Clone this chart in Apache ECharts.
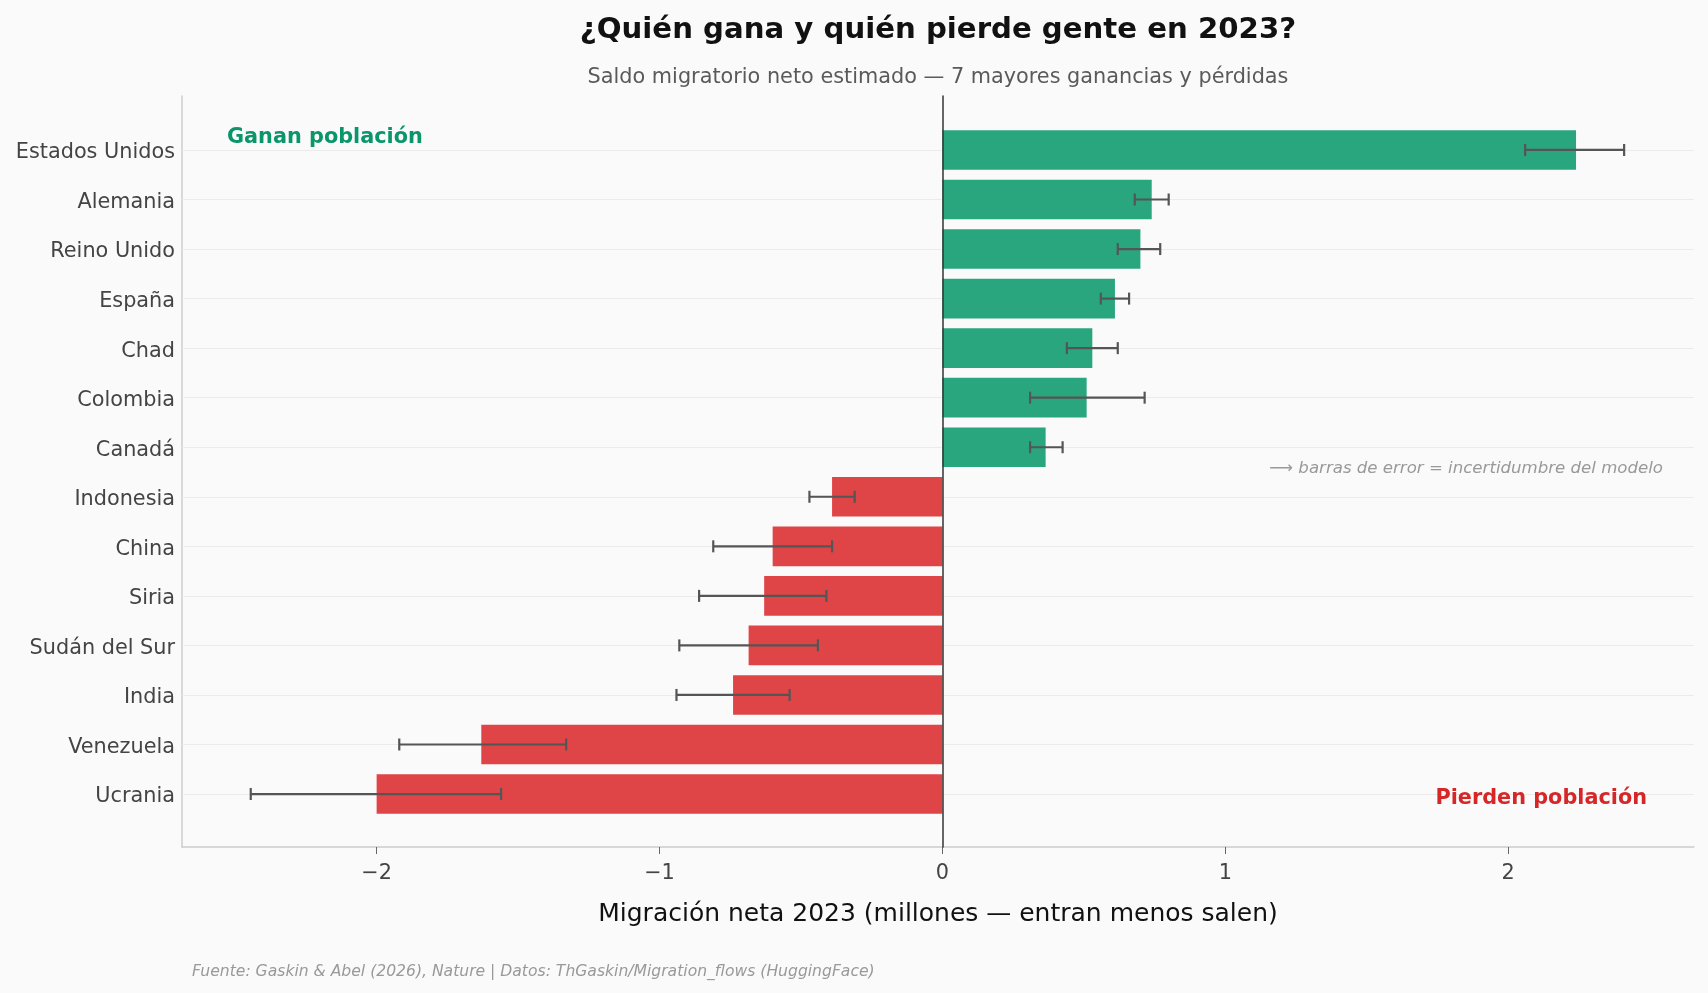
<!DOCTYPE html>
<html>
<head>
<meta charset="utf-8">
<script src="https://cdn.jsdelivr.net/npm/echarts@6/dist/echarts.min.js"></script>
<style>
  html, body { margin: 0; padding: 0; background: #fafafa; }
  #main { width: 1708px; height: 993px; }
</style>
</head>
<body>
<div id="main"></div>
<script>
// data (millones de personas)
var categories = ['Estados Unidos', 'Alemania', 'Reino Unido', 'España', 'Chad', 'Colombia', 'Canadá',
                  'Indonesia', 'China', 'Siria', 'Sudán del Sur', 'India', 'Venezuela', 'Ucrania'];
var netMigration = [2.24, 0.74, 0.70, 0.61, 0.53, 0.51, 0.365, -0.39, -0.60, -0.63, -0.685, -0.74, -1.63, -2.00];
var errLow  = [2.06, 0.68, 0.62, 0.56, 0.44, 0.31, 0.31, -0.47, -0.81, -0.86, -0.93, -0.94, -1.92, -2.445];
var errHigh = [2.41, 0.80, 0.77, 0.66, 0.62, 0.715, 0.425, -0.31, -0.39, -0.41, -0.44, -0.54, -1.33, -1.56];
var xTicks = [-2, -1, 0, 1, 2];

var GREEN = '#2aa67f', RED = '#df4547';
var FONT = '"DejaVu Sans", sans-serif';
var X_MIN = -2.688, X_MAX = 2.657;

var chart = echarts.init(document.getElementById('main'));

var barData = netMigration.map(function (v) {
  return { value: v, itemStyle: { color: v >= 0 ? GREEN : RED } };
});
var errData = errLow.map(function (lo, i) { return [lo, errHigh[i], i]; });

function fmtTick(v) {
  return v < 0 ? '\u2212' + Math.abs(v) : String(v);
}

function label(x, y, text, font, fill, align) {
  return {
    type: 'text', x: x, y: y, z: 20,
    style: { text: text, font: font, fill: fill, textAlign: align, align: align,
             textVerticalAlign: 'middle', verticalAlign: 'middle' }
  };
}

chart.setOption({
  backgroundColor: '#fafafa',
  animation: false,
  textStyle: { fontFamily: FONT },
  grid: [
    { left: 182, right: 14, top: 96, bottom: 146 },
    { left: 182, right: 14, top: 125.2, bottom: 174.2 }
  ],
  xAxis: [{
    gridIndex: 0,
    type: 'value',
    min: X_MIN,
    max: X_MAX,
    axisLine: { onZero: false, lineStyle: { color: '#cccccc', width: 1.5 } },
    axisTick: { show: true, length: 7, customValues: xTicks, lineStyle: { color: '#666', width: 1 } },
    axisLabel: { customValues: xTicks, formatter: fmtTick, fontSize: 20.8, color: '#444', margin: 16, fontFamily: FONT },
    splitLine: { show: false },
    name: 'Migración neta 2023 (millones — entran menos salen)',
    nameLocation: 'middle',
    nameGap: 55,
    nameTextStyle: { fontSize: 25, color: '#111', fontFamily: FONT }
  }, {
    gridIndex: 1,
    type: 'value',
    min: X_MIN,
    max: X_MAX,
    show: false
  }],
  yAxis: [{
    // zero line
    gridIndex: 0,
    type: 'value',
    min: 0, max: 1,
    position: 'right',
    z: 10,
    axisLine: { show: true, onZero: true, lineStyle: { color: '#333', width: 1.5 } },
    axisTick: { show: false },
    axisLabel: { show: false },
    splitLine: { show: false }
  }, {
    // left spine
    gridIndex: 0,
    type: 'value',
    min: 0, max: 1,
    position: 'left',
    axisLine: { show: true, onZero: false, lineStyle: { color: '#cccccc', width: 1.5 } },
    axisTick: { show: false },
    axisLabel: { show: false },
    splitLine: { show: false }
  }, {
    gridIndex: 1,
    type: 'category',
    data: categories,
    inverse: true,
    axisLine: { show: false },
    axisTick: { show: false },
    axisLabel: { fontSize: 20.8, color: '#444', margin: 7, verticalAlign: 'top', lineHeight: 6, fontFamily: FONT },
    splitLine: { show: false }
  }],
  series: [{
    type: 'bar',
    xAxisIndex: 1,
    yAxisIndex: 2,
    data: barData,
    barCategoryGap: '20%',
    z: 2,
    markLine: {
      silent: true,
      z: 1,
      symbol: 'none',
      label: { show: false },
      lineStyle: { color: '#ebebeb', width: 1, type: 'solid' },
      data: categories.map(function (c) { return { yAxis: c }; })
    }
  }, {
    type: 'custom',
    xAxisIndex: 1,
    yAxisIndex: 2,
    z: 3,
    data: errData,
    encode: { x: [0, 1], y: 2 },
    renderItem: function (params, api) {
      var lo = api.coord([api.value(0), api.value(2)]);
      var hi = api.coord([api.value(1), api.value(2)]);
      var cap = 6;
      var st = { stroke: '#555', lineWidth: 2.2 };
      return {
        type: 'group',
        children: [
          { type: 'line', shape: { x1: lo[0], y1: lo[1], x2: hi[0], y2: hi[1] }, style: st },
          { type: 'line', shape: { x1: lo[0], y1: lo[1] - cap, x2: lo[0], y2: lo[1] + cap }, style: st },
          { type: 'line', shape: { x1: hi[0], y1: hi[1] - cap, x2: hi[0], y2: hi[1] + cap }, style: st }
        ]
      };
    }
  }],
  graphic: [
    label(938, 30.5, '¿Quién gana y quién pierde gente en 2023?', 'bold 29.2px ' + FONT, '#111', 'center'),
    label(938, 77.5, 'Saldo migratorio neto estimado — 7 mayores ganancias y pérdidas', '20.8px ' + FONT, '#5a5a5a', 'center'),
    label(227, 137.5, 'Ganan población', 'bold 20.8px ' + FONT, '#0a9669', 'left'),
    label(1647, 799, 'Pierden población', 'bold 20.8px ' + FONT, '#d62728', 'right'),
    label(1663, 468.5, '⟶ barras de error = incertidumbre del modelo', 'italic 16.6px ' + FONT, '#999', 'right'),
    label(192, 971.5, 'Fuente: Gaskin & Abel (2026), Nature | Datos: ThGaskin/Migration_flows (HuggingFace)', 'italic 15.6px ' + FONT, '#999', 'left')
  ]
});
</script>
</body>
</html>
